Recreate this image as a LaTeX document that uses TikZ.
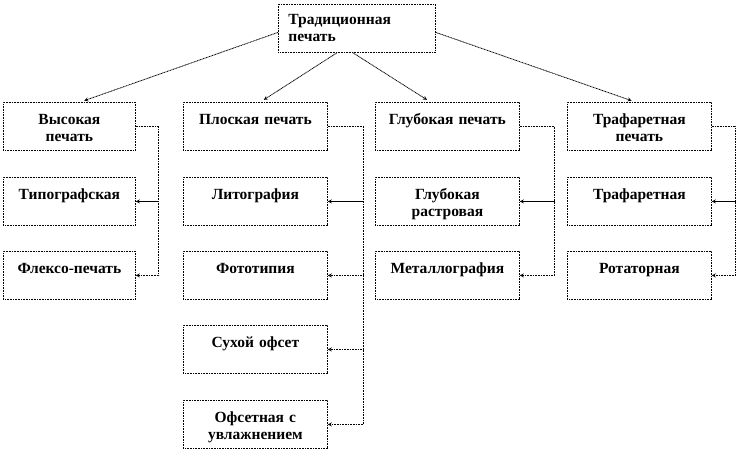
\documentclass[tikz,border=0pt]{standalone}
\usepackage{fontspec}
\setmainfont{Liberation Serif}
\usetikzlibrary{arrows,positioning}

\tikzset{
  box/.style={draw, dash pattern=on 1pt off 0.6pt, line width=0.8pt, anchor=north west,
    text width=140pt, align=center, inner xsep=2pt, inner ysep=0pt,
    text height=22pt, text depth=26pt,
    font=\fontsize{15.5}{17.5}\selectfont\bfseries},
  link/.style={dash pattern=on 1pt off 0.6pt, line width=0.8pt},
}

\begin{document}
\begin{tikzpicture}[>=stealth, x=1pt, y=-1pt]
  \useasboundingbox (0,0) rectangle (736,451);
  \node (trad) at (278,4) [box, text width=137pt, align=left, inner xsep=10pt,
    text height=20pt, text depth=28pt] {Традиционная\\печать};
  % first level
  \node (vys) at (3,102) [box, text width=128pt] {Высокая\\печать};
  \node (plosk) at (183,102) [box] {Плоская печать};
  \node (glub) at (375,102) [box] {Глубокая печать};
  \node (traf) at (567,102) [box] {Трафаретная\\печать};
  % kinds
  \node (tipo) at (3,177) [box, text width=128pt] {Типографская};
  \node (lito) at (183,177) [box] {Литография};
  \node (glubr) at (375,177) [box] {Глубокая\\растровая};
  \node (trafr) at (567,177) [box] {Трафаретная};
  \node (flexo) at (3,251) [box, text width=128pt] {Флексо-печать};
  \node (foto) at (183,251) [box] {Фототипия};
  \node (metal) at (375,251) [box] {Металлография};
  \node (rotat) at (567,251) [box] {Ротаторная};
  \node (suhoj) at (183,325) [box] {Сухой офсет};
  \node (ofset) at (183,400) [box] {Офсетная с\\увлажнением};
  % from the top
  \draw [link, ->, shorten >=4pt] ([yshift=-4pt]trad.west) -- ([xshift=11pt]vys.north);
  \draw [link, ->, shorten >=4pt] ([xshift=-20pt]trad.south) -- ([xshift=5pt]plosk.north);
  \draw [link, ->, shorten >=4pt] ([xshift=-4pt]trad.south) -- ([xshift=-17pt]glub.north);
  \draw [link, ->, shorten >=4pt] ([yshift=-4pt]trad.east) -- ([xshift=-4pt]traf.north);
  % side lines
  \draw [link, ->] (vys.east) -- ++(23,0) coordinate (tv) |- (flexo.east);
  \draw [->, line width=0.8pt] (tv |- tipo.east) -- (tipo.east);
  \draw [link, ->] (plosk.east) -- ++(36,0) coordinate (tp) |- (ofset.east);
  \draw [->, line width=0.8pt] (tp |- lito.east) -- (lito.east);
  \draw [link, ->] (tp |- foto.east) -- (foto.east);
  \draw [link, ->] (tp |- suhoj.east) -- (suhoj.east);
  \draw [link, ->] (glub.east) -- ++(35,0) coordinate (tg) |- (metal.east);
  \draw [->, line width=0.8pt] (tg |- glubr.east) -- (glubr.east);
  \draw [link, ->] (traf.east) -- ++(24,0) coordinate (tt) |- (rotat.east);
  \draw [->, line width=0.8pt] (tt |- trafr.east) -- (trafr.east);
\end{tikzpicture}
\end{document}
